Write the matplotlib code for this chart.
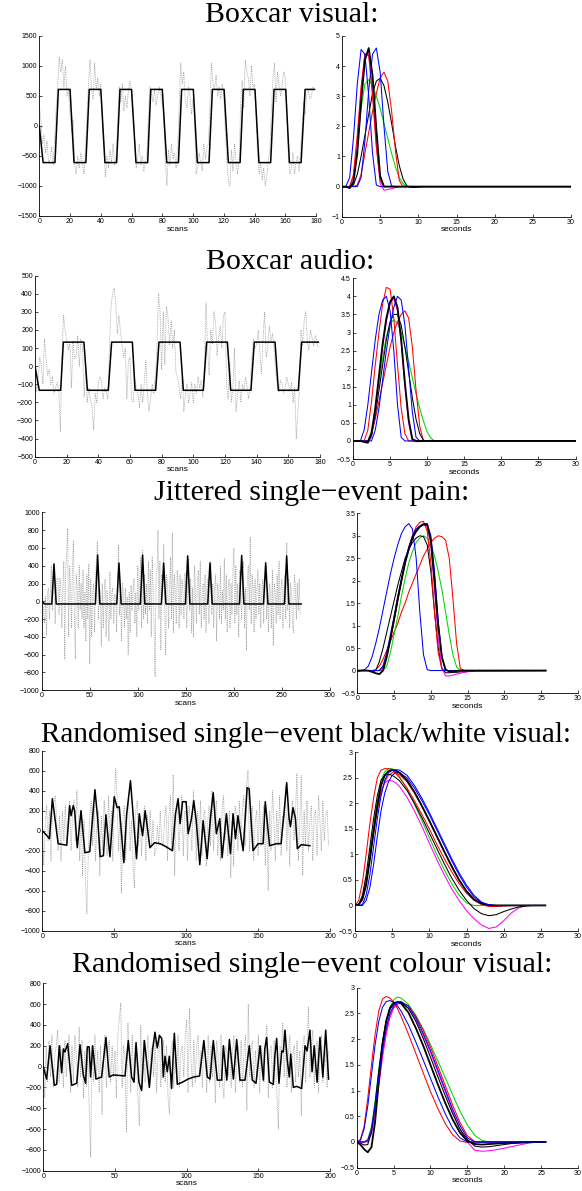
import matplotlib
matplotlib.use("Agg")
import matplotlib.pyplot as plt
from matplotlib.ticker import FuncFormatter

plt.rcParams['font.family'] = ['Liberation Sans', 'DejaVu Sans']

W, H = 582, 1191

# ---------------- data: row titles ----------------
titles = ["Boxcar visual:", "Boxcar audio:", "Jittered single\u2212event pain:",
          "Randomised single\u2212event black/white visual:",
          "Randomised single\u2212event colour visual:"]

# ---------------- data: left panels, measured signal (grey dotted), one value per scan ----------------
sig1 = [350, 100, -300, -150, -450, -250, -600, -550, -350, -650,
        -200, 300, 700, 1150, 900, 1100, 650, 1000, 500, 600,
        200, -100, 100, -650, -800, -500, -700, -450, -600, -800,
        -400, 200, 700, 1100, 600, 450, 1050, 600, 800, 500,
        700, 200, -300, -850, -500, -700, -400, -600, -300, -650,
        -500, 100, 650, 400, 700, 250, 500, 300, 600, 750,
        600, 300, -200, -700, -550, -300, -650, -500, -750, -600,
        -450, 200, 650, 550, 400, 600, 350, 500, 650, 500,
        350, 200, -600, -1000, -400, -650, -300, -550, -450, -700,
        -350, 300, 1050, 700, 900, 400, 300, 650, 500, 200,
        450, 100, -800, -700, -450, -600, -750, -300, -550, -350,
        -300, 400, 1050, 700, 600, 850, 500, 650, 450, 700,
        550, -100, -600, -900, -1000, -400, -750, -300, -600, -800,
        -550, 350, 750, 300, 1100, 900, 800, 500, 1000, 650,
        700, 200, -500, -800, -600, -900, -700, -1000, -850, -550,
        -400, 300, 800, 1050, 400, 900, 650, 500, 700, 900,
        800, 300, -500, -800, -700, -450, -800, -600, -500, -750,
        -400, 0, 400, 200, 550, 600, 450, 500, 650, 600]

sig2 = [0, -140, -60, 50, 0, -100, 150, 40, -50, -20,
        -100, -60, -150, -120, -90, -130, -360, 60, 280, 200,
        150, 90, 130, -120, 140, 40, 60, 170, 0, 150,
        110, -170, -20, -200, -120, -180, -220, -350, -150, -200,
        -100, -60, -80, -180, -120, -140, -180, 100, 330, 400,
        430, 350, 180, 280, 190, 120, 50, 100, -180, 30,
        50, -180, -200, -70, -120, -150, -230, -100, -200, -90,
        30, -150, -250, -180, -100, -150, -60, 100, 400, 300,
        -20, 300, 10, 330, 270, 120, 250, 100, 200, -30,
        -60, -120, -180, -60, -250, -150, -100, -200, -150, -90,
        -200, -100, -150, -60, -120, -80, -170, 0, 350, 100,
        -50, 200, 120, 300, 250, 60, 150, 220, 100, 280,
        300, -100, -180, 20, -200, -120, 100, -250, -150, -80,
        -200, -100, -140, -60, -120, -180, -100, 60, 150, 100,
        120, 200, 80, -40, 150, 300, 50, 100, 220, 140,
        180, 100, -30, -100, -140, -80, -100, -150, -120, -60,
        -100, -140, -90, -200, -120, -400, -250, -130, 200, 120,
        250, 300, 140, 90, 200, 160, 110, 170, 140, 100]

sig3 = [300, 100, -150, -250, 50, -380, 100, 150, -200, 80,
        400, -100, 150, 350, -250, 100, 260, 250, -150, 260,
        100, -300, 200, 450, -650, 350, 550, 820, -400, 400,
        200, -300, 380, 680, -200, -650, 300, 150, -300, 400,
        -100, 200, -200, 350, -300, 100, -450, 300, -200, 420,
        -700, 250, -400, 100, 200, -350, 300, 450, 670, -200,
        150, 120, -500, 200, -300, 100, 250, -400, 120, -150,
        -450, 330, -200, 100, 150, -250, 80, 50, -350, 300,
        630, -150, 150, -450, 200, 100, -300, 150, -200, 50,
        -600, 100, -350, 180, -100, 120, 250, -250, 100, -400,
        400, -100, 200, 500, -300, 580, -200, 300, -150, 200,
        -250, 450, -100, 350, -400, 500, 150, -300, -850, 250,
        350, 800, -200, 450, -550, 300, 150, 640, -100, -600,
        300, 200, -300, 150, 500, -200, 770, -350, 300, 100,
        -250, 350, 200, -300, 300, -150, 250, 100, -200, 320,
        150, -300, 200, 480, -100, 250, -350, 150, -400, 400,
        100, -250, 200, 350, -150, 450, -300, 100, 200, -200,
        300, -350, 150, 250, -250, 100, 450, -150, 200, -300,
        150, 300, -450, 200, 100, -200, 400, -250, 120, -100,
        480, -200, 300, -350, 150, 250, -300, 200, -150, 350,
        600, -250, 400, -150, 200, -400, 350, 100, -200, 300,
        450, -300, 150, -550, 250, 400, -100, 720, -250, 300,
        150, -350, 250, -200, 100, 350, -150, 200, -300, 100,
        250, -250, 300, 450, -200, 150, -350, 200, 100, -300,
        350, -500, 200, 100, -250, 300, -150, 450, -200, 150,
        250, -300, 150, 300, -200, 660, -100, 250, -300, 200,
        100, -250, -350, 300, 150, -200, 200, -100, 250, -150]

sig4 = [100, -350, 50, 250, -100, 200, -300, 150, 280, 350,
        100, -200, 150, -300, 200, -100, 250, -150, 100, 300,
        -200, 150, 300, -100, 400, 150, -300, 200, -450, 100,
        -500, -830, -200, 150, 300, -150, 250, -300, 100, 200,
        -450, 150, -200, 300, 100, -250, 350, -100, 200, -300,
        250, 620, 300, -200, 150, -620, 100, 250, -300, 150,
        350, -200, 100, -350, -570, 200, 300, -150, 150, -250,
        100, 250, -300, 150, -100, 200, -150, 100, -250, -200,
        50, -150, 200, -100, -150, 100, 250, -300, 150, 350,
        -200, 560, -450, 200, 300, -200, 100, 350, -250, 200,
        150, -300, 250, 100, -200, 400, 150, -300, 200, -150,
        300, -250, 150, 200, -350, 100, 250, -150, 400, -200,
        150, 300, -250, 100, -300, 200, 350, -100, 150, -250,
        200, -470, 100, -350, 250, 150, -200, 300, -100, 200,
        350, -150, 450, 600, -200, 150, 250, -300, 100, 200,
        -250, 300, -150, 100, 250, -350, 150, -600, 200, -200,
        400, 100, -300, 200, -150, 350, -250, 150, 100, 450,
        -200, 250, -350, 150, 300, -100, 200, 570, -300, 100,
        550, -450, 200, -150, 300, -200, 100, 250, -300, 150,
        200, -250, 350, 100, -200, 300, -100, 150, 200, -150]

sig5 = [150, -300, 200, -150, 250, -100, 300, -200, 100, 200,
        350, -150, 200, 100, -200, 250, -100, 150, 300, -250,
        200, -150, 300, 100, -200, 380, -100, 250, -300, 150,
        -200, 100, -400, -870, 200, -150, 300, -100, 150, -250,
        200, -460, 150, 300, -200, 100, 250, -150, 200, -100,
        150, -300, 300, 450, 610, -200, 200, 100, -630, 420,
        150, -250, 300, -150, 200, 100, -300, -570, 400, -200,
        250, -150, 100, 300, -200, 150, 200, -100, 250, -250,
        150, 300, -200, 100, 250, -150, 200, -300, -450, 150,
        250, -200, 100, -150, 300, -200, 150, 200, -100, 300,
        450, -250, 560, 100, -200, 250, -150, 200, 300, -100,
        150, -200, 250, 100, -250, 300, -150, 200, -100, 150,
        -350, 250, 100, -200, 300, -150, -300, 200, 150, -100,
        250, -200, 150, 300, -250, 100, 200, -150, 250, -200,
        150, 300, -420, 600, -100, 200, 250, -200, 150, -100,
        300, -250, 200, 100, -150, 250, 400, -300, 150, 200,
        -200, 250, 100, -300, -600, 200, 150, 420, -100, 250,
        -200, 150, 300, -250, 100, 200, -150, 250, -100, 150,
        -470, 200, 300, -150, 250, 570, -100, 200, 350, -200,
        150, 250, -250, 100, 300, -150, 200, 100, -200, 150]

# ---------------- data: left panels, model regressor (black), vertices (scan, value) ----------------
mod1_x = [0, 2.5, 10.2, 12.4, 20.0, 22.6, 30.3, 32.5, 40.0, 42.7, 50.3, 52.5, 60.0, 62.9,
          70.5, 72.5, 80.0, 82.9, 90.5, 92.6, 100.2, 102.8, 110.4, 112.6, 120.2, 123.0,
          130.6, 132.7, 140.3, 142.9, 150.5, 152.7, 160.3, 162.7, 170.3, 172.9, 179]
mod1_y = [0, -610, -610, 610, 610, -610, -610, 610, 610, -610, -610, 610, 610, -610,
          -610, 610, 610, -610, -610, 610, 610, -610, -610, 610, 610, -610,
          -610, 610, 610, -610, -610, 610, 610, -610, -610, 610, 610]

mod2_x = [0, 2.7, 16.2, 17.9, 30.9, 33.1, 46.3, 48.4, 61.5, 63.2, 76.2, 78.3, 91.6,
          93.7, 106.3, 108.4, 121.5, 123.6, 136.4, 138.5, 151.6, 153.7, 166.3, 168.4, 179]
mod2_y = [0, -133, -133, 133, 133, -133, -133, 133, 133, -133, -133, 133, 133,
          -133, -133, 133, 133, -133, -133, 133, 133, -133, -133, 133, 133]

mod3_x = [0, 3, 10.5, 12.8, 15.1, 55.9, 58.2, 60.5, 78.1, 80.4, 82.7, 102.7, 105, 107.3,
          124.6, 126.9, 129.2, 149.6, 151.9, 154.2, 172.8, 175.1, 177.4, 205.8, 208.1, 210.4,
          230.8, 233.1, 235.4, 252.6, 254.9, 257.2, 270]
mod3_y = [0, -30, -30, 420, -30, -30, 520, -30, -30, 430, -30, -30, 520, -30,
          -30, 430, -30, -30, 510, -30, -30, 430, -30, -30, 515, -30,
          -30, 430, -30, -30, 510, -30, -30]

mod4_x = [0, 2, 5, 7, 9, 11, 17, 19, 20, 21.5, 22.5, 24.3, 26.9, 29.6, 33, 34.5, 36.6,
          38.5, 40.2, 42.5, 44.2, 47, 50, 52, 53.5, 56.7, 58.6, 61.3, 65.5, 67.4, 69.7,
          71.5, 74.8, 78, 82, 86, 90.5, 92.6, 94.4, 95.8, 97.5, 100, 101.4, 103.7, 105.3,
          107, 109.5, 111.8, 114.6, 116.9, 118.8, 121, 123.4, 125, 128, 130.8, 132.6,
          134.3, 136, 139.6, 142.4, 143.8, 146.5, 150, 153.5, 155, 158, 162.7, 166,
          168.5, 169.9, 171.5, 172.5, 174.3, 176, 177.3, 180, 186]
mod4_y = [0, -30, -80, 320, 100, -130, -145, 250, 150, 250, 200, -170, 200, -220, -210, 50, 410,
          120, -260, -250, 160, -260, 340, 230, 240, -320, 160, 500, -280, 170, -50,
          200, -170, -120, -130, -160, -200, 170, 320, 70, 290, 290, -30, 120, 300,
          100, -340, 100, -280, 130, 380, -30, 120, -270, 170, -230, 170,
          -80, 150, -200, 430, 420, -200, -130, -130, 290, -150, -130, -130,
          250, 480, 130, 40, 230, 120, -180, -140, -150]

mod5_x = [0, 2.3, 4.7, 7.7, 9.3, 11.2, 12.8, 14, 15.1, 17, 19.8, 23.3, 25.6, 27.9, 29.5,
          30.7, 32, 33, 34.4, 36.7, 40.7, 43.7, 46, 48.8, 57, 59.3, 61.6, 63.3, 64.7, 66.7,
          68.6, 70.5, 72, 74, 76.3, 77.9, 79.5, 81, 82.6, 83.7, 84.9, 86.5, 87.9, 89.5,
          91.4, 93.5, 97, 101, 105, 109, 112, 114.4, 116.3, 118.6, 121.4, 124.4, 125.6,
          128, 129.8, 132.6, 134.9, 137.2, 140.7, 143.7, 145.8, 148.4, 151.2, 153.5,
          154.5, 155.8, 157.7, 160.5, 161.5, 162.8, 164.4, 166.3, 167.4, 168.6, 170.2,
          171.6, 172.6, 174.4, 176.7, 180.2, 182.6, 184, 186, 187.5, 189, 191, 193,
          195, 197, 199]
mod5_y = [0, -120, 200, -180, -170, 200, -60, 170, 140, 220, -180, -160, 210, -80, -160,
          190, 190, -100, 200, -120, -100, 280, -100, -80, -90, 250, -100, -150, 230, -150,
          -230, 250, 60, -200, 170, 330, 180, 300, 270, -100, 100, -50, 100, -210,
          320, -170, -150, -120, -100, -90, 250, -100, -120, 250, -130, -130, 200,
          -130, 260, -120, 260, -130, -130, 200, -130, -160, 200, -130,
          170, 280, -150, -170, 100, 270, -160, 150, 140, 350, 60,
          -100, 120, -200, -190, -210, 200, 150, 350, -50, 200, -150, 280,
          -100, 350, -120]

# ---------------- data: right panels, fitted responses (seconds) ----------------
t_box = [0, 0.5, 1, 1.5, 2, 2.5, 3, 3.5, 4, 4.5, 5, 5.5, 6, 6.5, 7, 7.5, 8, 8.5, 9, 9.5,
         10, 10.5, 11, 30]
t_jit = [0, 0.5, 1, 1.5, 2, 2.5, 3, 3.5, 4, 4.5, 5, 5.5, 6, 6.5, 7, 7.5, 8, 8.5, 9, 9.5,
         10, 10.5, 11, 11.5, 12, 12.5, 13, 13.5, 14, 14.5, 15, 15.5, 16, 25.6]
t_rand = [0, 0.5, 1, 1.5, 2, 2.5, 3, 3.5, 4, 4.5, 5, 5.5, 6, 7, 8, 9, 10, 11, 12, 13, 14,
          15, 16, 17, 18, 19, 20, 21, 22, 23, 24, 25.6]

hrf1 = {
    'k_b': [0, 0, 0, 0.05, 0.4, 1.0, 1.7, 2.4, 3.1, 3.5, 3.6, 3.35, 2.8, 2.1, 1.35, 0.7, 0.25, 0.02, -0.03, -0.03, -0.02, -0.01, 0, 0],
    'g':   [0, 0, 0, 0.3, 1.3, 2.6, 3.4, 3.55, 3.35, 3.0, 2.6, 2.1, 1.6, 1.1, 0.65, 0.3, 0.1, 0, 0, 0, 0, 0, 0, 0],
    'r_b': [0, 0, 0, 0, 0.05, 0.4, 1.1, 1.8, 2.5, 3.1, 3.6, 3.8, 3.5, 2.5, 1.2, 0.2, 0, 0, 0, 0, 0, 0, 0, 0],
    'm':   [0, 0, 0, 0.3, 1.5, 3.2, 4.4, 4.4, 3.2, 1.4, 0.1, -0.12, -0.1, -0.07, -0.03, 0, 0, 0, 0, 0, 0, 0, 0, 0],
    'r_a': [0, 0, 0, 0.4, 1.7, 3.3, 4.4, 4.35, 3.0, 1.3, 0.2, 0, 0, 0, 0, 0, 0, 0, 0, 0, 0, 0, 0, 0],
    'b_a': [0, 0, 0.3, 1.6, 3.4, 4.55, 4.4, 3.0, 1.1, 0.05, 0, 0, 0, 0, 0, 0, 0, 0, 0, 0, 0, 0, 0, 0],
    'b_b': [0, 0, 0, 0, 0, 0.3, 1.5, 3.2, 4.4, 4.6, 3.8, 2.0, 0.5, 0.02, 0, 0, 0, 0, 0, 0, 0, 0, 0, 0],
    'k_a': [0, 0, -0.05, 0.15, 1.1, 2.8, 4.2, 4.6, 3.7, 1.9, 0.35, 0, 0, 0, 0, 0, 0, 0, 0, 0, 0, 0, 0, 0],
}
hrf2 = {
    'g':   [0, 0, 0, 0, 0, 0.3, 0.9, 1.6, 2.3, 2.9, 3.25, 3.35, 3.25, 3.0, 2.6, 2.2, 1.75, 1.3, 0.9, 0.55, 0.25, 0.08, 0, 0],
    'r_b': [0, 0, 0, 0, 0, 0.2, 0.6, 1.1, 1.6, 2.1, 2.6, 3.0, 3.3, 3.5, 3.6, 3.4, 2.6, 1.4, 0.4, 0, 0, 0, 0, 0],
    'k_b': [0, 0, 0, 0, 0, 0.2, 0.7, 1.4, 2.1, 2.8, 3.3, 3.5, 3.5, 3.2, 2.6, 1.9, 1.2, 0.6, 0.2, 0.02, 0, 0, 0, 0],
    'm':   [0, 0, 0, -0.02, -0.03, 0.1, 0.8, 1.7, 2.6, 3.3, 3.8, 3.95, 3.6, 2.7, 1.5, 0.5, 0, -0.02, -0.02, -0.01, 0, 0, 0, 0],
    'r_a': [0, 0, 0, 0, 0.3, 1.1, 2.1, 3.0, 3.8, 4.25, 4.2, 3.4, 2.1, 0.9, 0.2, 0, 0, 0, 0, 0, 0, 0, 0, 0],
    'b_a': [0, 0, 0, 0.3, 1.0, 1.9, 2.8, 3.5, 3.9, 4.0, 3.6, 2.5, 1.0, 0.1, 0, 0, 0, 0, 0, 0, 0, 0, 0, 0],
    'b_b': [0, 0, 0, 0, 0, 0, 0.3, 0.9, 1.7, 2.5, 3.2, 3.7, 4.0, 3.9, 3.2, 2.0, 0.8, 0.1, 0, 0, 0, 0, 0, 0],
    'k_a': [0, 0, 0, -0.03, -0.05, 0.2, 0.9, 1.8, 2.7, 3.4, 3.85, 4.0, 3.7, 2.8, 1.6, 0.6, 0.05, 0, 0, 0, 0, 0, 0, 0],
}
hrf3 = {
    'r_b': [0, 0, 0, 0, 0, 0.02, 0.1, 0.25, 0.45, 0.65, 0.85, 1.05, 1.3, 1.5, 1.75, 1.95, 2.15, 2.35, 2.55, 2.7, 2.85, 2.95, 3.0, 2.98, 2.9, 2.5, 1.6, 0.6, 0.05, 0, 0, 0, 0, 0],
    'g':   [0, 0, 0, 0, 0, 0, 0, 0, 0.1, 0.4, 0.8, 1.2, 1.65, 2.05, 2.4, 2.65, 2.85, 2.95, 3.0, 2.95, 2.8, 2.55, 2.2, 1.8, 1.3, 0.8, 0.35, 0.08, 0, 0, 0, 0, 0, 0],
    'k_c': [0, 0, 0, 0, -0.03, 0, 0.2, 0.5, 0.85, 1.2, 1.55, 1.9, 2.2, 2.5, 2.7, 2.85, 2.95, 3.0, 2.98, 2.8, 2.2, 1.3, 0.5, 0.05, -0.05, -0.05, -0.04, -0.04, -0.03, -0.03, -0.02, -0.02, -0.01, 0],
    'm':   [0, 0, 0, 0, 0, 0, 0, 0.05, 0.3, 0.7, 1.1, 1.55, 2.0, 2.4, 2.7, 2.95, 3.1, 3.2, 3.25, 3.2, 2.8, 1.8, 0.7, 0.05, -0.12, -0.12, -0.1, -0.08, -0.06, -0.04, -0.03, -0.01, 0, 0],
    'r_a': [0, 0, 0, 0, 0, 0, 0, 0.1, 0.35, 0.7, 1.1, 1.55, 2.0, 2.4, 2.75, 3.0, 3.2, 3.3, 3.32, 3.1, 2.4, 1.3, 0.4, 0.03, 0, 0, 0, 0, 0, 0, 0, 0, 0, 0],
    'b_a': [0, 0, 0.02, 0.1, 0.3, 0.6, 0.95, 1.35, 1.75, 2.15, 2.5, 2.8, 3.05, 3.2, 3.27, 3.15, 2.5, 1.3, 0.35, 0.02, 0, 0, 0, 0, 0, 0, 0, 0, 0, 0, 0, 0, 0, 0],
    'b_b': [0, 0, 0, 0, 0, 0, 0, 0.1, 0.4, 0.8, 1.2, 1.65, 2.05, 2.45, 2.75, 3.0, 3.15, 3.22, 3.27, 3.27, 3.0, 2.2, 1.1, 0.3, 0, 0, 0, 0, 0, 0, 0, 0, 0, 0],
    'k_a': [0, 0, 0, 0, -0.03, -0.06, -0.08, 0, 0.3, 0.7, 1.15, 1.6, 2.0, 2.4, 2.7, 2.95, 3.1, 3.2, 3.25, 3.25, 2.9, 2.0, 1.0, 0.3, 0.02, -0.02, -0.02, -0.01, 0, 0, 0, 0, 0, 0],
}
hrf4 = {
    'm':   [0, 0.02, 0.15, 0.5, 1.0, 1.5, 1.95, 2.25, 2.4, 2.45, 2.44, 2.4, 2.33, 2.12, 1.85, 1.55, 1.22, 0.9, 0.6, 0.33, 0.1, -0.1, -0.26, -0.38, -0.45, -0.42, -0.3, -0.15, -0.05, 0, 0, 0],
    'g':   [0, 0.02, 0.15, 0.5, 1.0, 1.55, 2.05, 2.45, 2.62, 2.68, 2.68, 2.62, 2.52, 2.28, 1.98, 1.66, 1.33, 1.0, 0.7, 0.43, 0.2, 0.05, 0, 0, 0, 0, 0, 0, 0, 0, 0, 0],
    'r_a': [0, 0.1, 0.45, 1.0, 1.6, 2.1, 2.5, 2.65, 2.68, 2.68, 2.66, 2.58, 2.5, 2.3, 2.05, 1.78, 1.5, 1.2, 0.92, 0.66, 0.43, 0.24, 0.1, 0.02, -0.02, -0.02, -0.01, 0, 0, 0, 0, 0],
    'r_b': [0, 0.02, 0.15, 0.45, 0.9, 1.4, 1.85, 2.2, 2.42, 2.55, 2.6, 2.6, 2.56, 2.42, 2.2, 1.94, 1.65, 1.35, 1.05, 0.76, 0.5, 0.28, 0.12, 0.03, 0, 0, 0, 0, 0, 0, 0, 0],
    'k_c': [0, 0.02, 0.2, 0.6, 1.15, 1.7, 2.15, 2.45, 2.55, 2.57, 2.55, 2.5, 2.44, 2.25, 2.0, 1.72, 1.42, 1.12, 0.82, 0.54, 0.3, 0.1, -0.06, -0.16, -0.2, -0.18, -0.12, -0.07, -0.03, -0.01, 0, 0],
    'b_b': [0, 0, 0, 0.1, 0.35, 0.8, 1.35, 1.85, 2.2, 2.42, 2.55, 2.6, 2.6, 2.5, 2.3, 2.05, 1.78, 1.48, 1.18, 0.88, 0.6, 0.36, 0.17, 0.05, 0, 0, 0, 0, 0, 0, 0, 0],
    'k_a': [0, 0.02, 0.12, 0.4, 0.9, 1.45, 1.95, 2.35, 2.55, 2.63, 2.65, 2.64, 2.6, 2.45, 2.22, 1.95, 1.66, 1.36, 1.06, 0.77, 0.5, 0.28, 0.12, 0.04, 0.01, 0, 0, 0, 0, 0, 0, 0],
    'b_a': [0, 0, 0.02, 0.2, 0.6, 1.15, 1.7, 2.15, 2.45, 2.6, 2.65, 2.66, 2.65, 2.55, 2.35, 2.1, 1.82, 1.52, 1.22, 0.92, 0.64, 0.4, 0.2, 0.07, 0.01, 0, 0, 0, 0, 0, 0, 0],
}
hrf5 = {
    'g':   [0, 0, 0, 0.05, 0.3, 0.8, 1.4, 1.95, 2.35, 2.62, 2.76, 2.82, 2.8, 2.68, 2.47, 2.2, 1.9, 1.58, 1.25, 0.92, 0.6, 0.33, 0.13, 0.03, 0, 0, 0, 0, 0, 0, 0, 0],
    'r_a': [0, 0.05, 0.3, 0.85, 1.5, 2.1, 2.55, 2.78, 2.83, 2.8, 2.72, 2.6, 2.45, 2.1, 1.73, 1.35, 0.98, 0.65, 0.36, 0.14, 0.02, -0.01, 0, 0, 0, 0, 0, 0, 0, 0, 0, 0],
    'r_b': [0, 0, 0, 0.02, 0.2, 0.6, 1.15, 1.7, 2.15, 2.45, 2.62, 2.7, 2.72, 2.65, 2.45, 2.18, 1.85, 1.48, 1.1, 0.72, 0.38, 0.12, 0.01, 0, 0, 0, 0, 0, 0, 0, 0, 0],
    'm':   [0, 0, 0, 0, 0.15, 0.55, 1.1, 1.65, 2.1, 2.42, 2.6, 2.68, 2.7, 2.6, 2.38, 2.08, 1.74, 1.36, 0.98, 0.6, 0.25, 0, -0.16, -0.18, -0.17, -0.15, -0.12, -0.09, -0.06, -0.03, -0.01, 0],
    'b_a': [0, 0.03, 0.25, 0.7, 1.3, 1.9, 2.35, 2.62, 2.73, 2.75, 2.72, 2.65, 2.55, 2.28, 1.95, 1.6, 1.24, 0.88, 0.55, 0.27, 0.08, 0, 0, 0, 0, 0, 0, 0, 0, 0, 0, 0],
    'k_a': [0, -0.05, -0.14, -0.2, -0.1, 0.4, 1.2, 1.9, 2.35, 2.6, 2.7, 2.72, 2.7, 2.52, 2.22, 1.88, 1.5, 1.12, 0.76, 0.44, 0.18, 0.02, -0.04, -0.05, -0.04, -0.03, -0.02, -0.015, -0.01, -0.005, 0, 0],
    'k_b': [0, -0.02, -0.06, -0.05, 0.2, 0.75, 1.4, 1.95, 2.35, 2.58, 2.68, 2.72, 2.72, 2.6, 2.35, 2.02, 1.65, 1.27, 0.9, 0.55, 0.25, 0.05, -0.08, -0.1, -0.09, -0.07, -0.05, -0.03, -0.02, -0.01, 0, 0],
    'b_b': [0, 0, 0, 0.03, 0.25, 0.7, 1.25, 1.8, 2.22, 2.5, 2.65, 2.72, 2.73, 2.64, 2.42, 2.12, 1.78, 1.4, 1.02, 0.64, 0.32, 0.08, 0, 0, 0, 0, 0, 0, 0, 0, 0, 0],
}

# ---------------- layout (pixel boxes of the axes: x0, x1, ytop, ybottom) ----------------
left_boxes = [(39.3, 316, 36, 216), (35, 320, 275.7, 456.7), (41.7, 330, 512.3, 690.3),
              (42.3, 330, 750.7, 930.7), (43.3, 330, 983.3, 1170.7)]
right_boxes = [(342, 571, 36, 216.7), (353, 575.5, 278.3, 459), (357.3, 578, 513.3, 693),
               (355, 578, 752.3, 931), (356.7, 578, 987.7, 1167.7)]
# title: left x, baseline y, font size
title_pos = [(205, 22, 21.5), (206, 269, 21.5), (154, 500, 21.5), (41, 742, 21), (72, 972, 21.5)]

left_xlim = [(0, 180), (0, 180), (0, 300), (0, 200), (0, 200)]
left_xticks = [range(0, 181, 20), range(0, 181, 20), range(0, 301, 50), range(0, 201, 50), range(0, 201, 50)]
left_ylim = [(-1500, 1500), (-500, 500), (-1000, 1000), (-1000, 800), (-1000, 800)]
left_ystep = [500, 100, 200, 200, 200]
right_ylim = [(-1, 5), (-0.5, 4.5), (-0.5, 3.5), (-0.5, 3), (-0.5, 3)]
right_ystep = [1, 0.5, 0.5, 0.5, 0.5]

COLORS = {'b': (0, 0, 1), 'r': (1, 0, 0), 'g': (0, 0.85, 0), 'm': (1, 0, 1), 'k': (0, 0, 0)}

fmt = FuncFormatter(lambda v, p: ('%g' % v).replace('-', '\u2212'))


def make_axes(fig, box):
    x0, x1, yt, yb = box
    ax = fig.add_axes([x0 / W, 1 - yb / H, (x1 - x0) / W, (yb - yt) / H])
    ax.spines['top'].set_visible(False)
    ax.spines['right'].set_visible(False)
    for s in ('left', 'bottom'):
        ax.spines[s].set_linewidth(0.6)
    ax.tick_params(direction='in', length=2, width=0.5, labelsize=5, pad=1.5)
    ax.xaxis.set_major_formatter(fmt)
    ax.yaxis.set_major_formatter(fmt)
    return ax


def frange(a, b, step):
    out = []
    v = a
    while v <= b + 1e-9:
        out.append(round(v, 6))
        v += step
    return out


fig = plt.figure(figsize=(W / 100, H / 100), dpi=100)

signals = [sig1, sig2, sig3, sig4, sig5]
models = [(mod1_x, mod1_y), (mod2_x, mod2_y), (mod3_x, mod3_y), (mod4_x, mod4_y), (mod5_x, mod5_y)]
hrfs = [(t_box, hrf1), (t_box, hrf2), (t_jit, hrf3), (t_rand, hrf4), (t_rand, hrf5)]

for i in range(5):
    # left: data + model
    ax = make_axes(fig, left_boxes[i])
    sig = signals[i]
    ax.plot(range(len(sig)), sig, color=(0.62, 0.62, 0.62), lw=0.6, linestyle=(0, (1, 1.2)))
    mx, my = models[i]
    ax.plot(mx, my, color='k', lw=1.1)
    ax.set_xlim(*left_xlim[i])
    ax.set_ylim(*left_ylim[i])
    ax.set_xticks(list(left_xticks[i]))
    ax.set_yticks(frange(left_ylim[i][0], left_ylim[i][1], left_ystep[i]))
    ax.set_xlabel('scans', fontsize=6, labelpad=0.5)

    # right: fitted responses
    ax = make_axes(fig, right_boxes[i])
    t, curves = hrfs[i]
    for name, vals in curves.items():
        col = COLORS[name[0]]
        lw = 1.3 if name == 'k_a' else 0.75
        ax.plot(t, vals, color=col, lw=lw)
    ax.set_xlim(0, 30)
    ax.set_ylim(*right_ylim[i])
    ax.set_xticks(range(0, 31, 5))
    ax.set_yticks(frange(right_ylim[i][0], right_ylim[i][1], right_ystep[i]))
    ax.set_xlabel('seconds', fontsize=6, labelpad=0.5)

    tx, ty, fs = title_pos[i]
    fig.text(tx / W, 1 - ty / H, titles[i], ha='left', va='baseline', fontsize=fs,
             family=['Liberation Serif', 'DejaVu Serif'])

fig.savefig('out.png', dpi=100)
